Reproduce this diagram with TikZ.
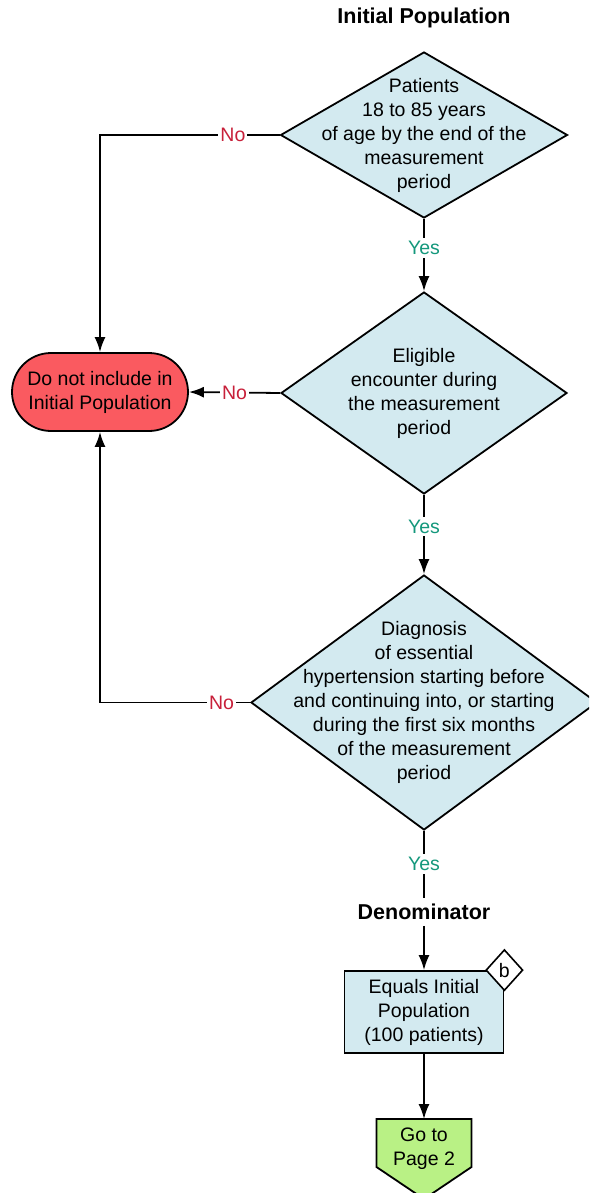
\documentclass[tikz,border=0pt]{standalone}
\usepackage{fontspec}
\setmainfont{Liberation Sans}
\usepackage{tikz}
\usepackage{xcolor}
\usetikzlibrary{shapes,arrows.meta,calc}

\definecolor{boxblue}{HTML}{D3EAF0}
\definecolor{stopred}{HTML}{FA5A60}
\definecolor{pagegreen}{HTML}{B9F185}
\definecolor{nored}{HTML}{C8203A}
\definecolor{yesgreen}{HTML}{14987C}

\begin{document}
\begin{tikzpicture}[x=1pt,y=-1pt,line width=1.8pt,
                font=\fontsize{19.5}{24}\selectfont,
                arr/.style={-{Latex[length=15pt,width=11pt]}},
                decision/.style={diamond,draw,fill=boxblue,inner sep=0pt},
                yes/.style={fill=white,text=yesgreen,inner sep=3pt},
                no/.style={fill=white,text=nored,inner sep=2pt},
                heading/.style={font=\fontsize{21.5}{26}\selectfont\bfseries,inner sep=5pt}]
                \clip (0,0) rectangle (589,1193);

                % Headings
                \node[heading] (title) at (424,18) {Initial Population};
                \node[heading] (denom) at (424,912) {Denominator};

                % Decisions
                \node[decision,minimum width=287pt,minimum height=166pt,
                    label={[align=center]center:Patients\\18 to 85 years\\of age by the end of the\\measurement\\period}] (d1) at (424,135) {};
                \node[decision,minimum width=286pt,minimum height=202pt,
                    label={[align=center]center:Eligible\\encounter during\\the measurement\\period}] (d2) at (424,393) {};
                \node[decision,minimum width=346pt,minimum height=255pt,
                    label={[align=center]center:{Diagnosis\\of essential\\hypertension starting before\\and continuing into, or starting\\during the first six months\\of the measurement\\period}}] (d3) at (424,702.5) {};

                % Exit
                \node[draw,fill=stopred,rounded corners=39pt,minimum width=176pt,minimum height=78pt,
                    align=center] (term) at (100,392) {Do not include in\\Initial Population};

                % Result box and marker
                \node[draw,fill=boxblue,minimum width=159pt,minimum height=82pt,align=center] (eq) at (424,1012) {Equals Initial\\Population\\(100 patients)};
                \node[diamond,draw,fill=white,inner sep=0pt,minimum width=37pt,minimum height=41pt,line width=1.6pt] (bmark) at (eq.north east) {b};

                % Off page connector
                \coordinate (gotop) at (424,1119);
                \draw[fill=pagegreen] ($(gotop)+(-47.5,0)$) -- ($(gotop)+(47.5,0)$) -- ($(gotop)+(47.5,48)$)
                    -- ($(gotop)+(0,80)$) -- ($(gotop)+(-47.5,48)$) -- cycle;
                \node[align=center] (goto) at ($(gotop)+(0,30)$) {Go to\\Page 2};

                % Yes paths
                \draw[arr] (d1.south) -- node[yes,pos=0.4] {Yes} (d2.north);
                \draw[arr] (d2.south) -- node[yes,pos=0.4] {Yes} (d3.north);
                \draw (d3.south) -- node[yes,pos=0.49] {Yes} (denom.north);
                \draw[arr] (denom.south) -- (eq.north);
                \draw[arr] (eq.south) -- (gotop);

                % No paths
                \draw[arr] (d1.west) -- node[no,pos=0.26] {No} (d1.west -| term.north) -- (term.north);
                \draw[arr] (d2.west) -- node[no] {No} (term.east);
                \draw[arr] (d3.west) -- node[no,pos=0.19] {No} (d3.west -| term.south) -- (term.south);
\end{tikzpicture}
\end{document}
